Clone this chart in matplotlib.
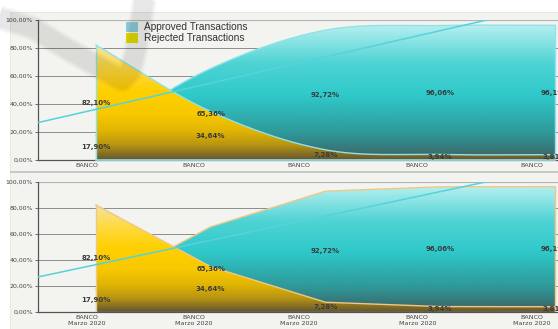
import numpy as np
import matplotlib
matplotlib.use("Agg")
import matplotlib.pyplot as plt
from matplotlib.colors import LinearSegmentedColormap
from matplotlib.patches import Rectangle
from matplotlib.lines import Line2D

W, H = 558, 329

# data
categories = ['BANCO', 'BANCO', 'BANCO', 'BANCO', 'BANCO']
months = ['Marzo 2020'] * 5
approved = [17.90, 65.36, 92.72, 96.06, 96.19]
rejected = [82.10, 34.64, 7.28, 3.94, 3.81]
legend_labels = ['Approved Transactions', 'Rejected Transactions']

teal_cmap = LinearSegmentedColormap.from_list('teal', [
    (0.0, '#3d6062'), (0.2, '#2f9899'), (0.48, '#2fc9ca'),
    (0.72, '#4fd3d4'), (1.0, '#b6efef')])
gold_cmap = LinearSegmentedColormap.from_list('gold', [
    (0.0, '#655533'), (0.06, '#8a7222'), (0.13, '#b89412'), (0.25, '#e0b404'),
    (0.4, '#f8c800'), (0.6, '#ffd000'), (0.8, '#ffda40'), (1.0, '#f4e2a2')])


def fpos(x, y):
    # pixel position -> figure fraction
    return x / W, 1 - y / H


def smooth(x, y, n=40):
    # cubic hermite through the points (catmull-rom tangents)
    y = np.asarray(y, float)
    m = np.gradient(y)
    xs, ys = [], []
    for i in range(len(y) - 1):
        t = np.linspace(0, 1, n, endpoint=(i == len(y) - 2))
        h00 = 2 * t**3 - 3 * t**2 + 1
        h10 = t**3 - 2 * t**2 + t
        h01 = -2 * t**3 + 3 * t**2
        h11 = t**3 - t**2
        ys.append(h00 * y[i] + h10 * m[i] + h01 * y[i + 1] + h11 * m[i + 1])
        xs.append(x[i] + t * (x[i + 1] - x[i]))
    return np.concatenate(xs), np.concatenate(ys)


def gradient_area(ax, x, y, cmap, edge, z):
    poly = ax.fill_between(x, 0, y, facecolor='none', edgecolor='none', zorder=z)
    top = max(y)
    grad = np.linspace(0, 1, 256).reshape(-1, 1)
    im = ax.imshow(grad, cmap=cmap, origin='lower', aspect='auto',
                   extent=[x[0], x[-1], 0, top], zorder=z, interpolation='bilinear')
    im.set_clip_path(poly.get_paths()[0], transform=ax.transData)
    ax.plot(x, y, color=edge, lw=1.0, zorder=z + 0.1)
    ax.plot([x[0], x[0]], [0, y[0]], color=edge, lw=1.0, zorder=z + 0.1)
    ax.plot([x[-1], x[-1]], [0, y[-1]], color=edge, lw=1.0, zorder=z + 0.1)


def draw_panel(ax, smoothed, edge, xlabels):
    idx = np.arange(len(approved))
    if smoothed:
        xa, ya = smooth(idx, approved)
        xr, yr = smooth(idx, rejected)
    else:
        xa, ya = idx.astype(float), np.array(approved)
        xr, yr = idx.astype(float), np.array(rejected)
    gradient_area(ax, xa, ya, teal_cmap, edge, 2)
    gradient_area(ax, xr, yr, gold_cmap, edge, 3)
    if smoothed:
        ax.plot([idx[0], idx[-1]], [0, 0], color=edge, lw=1.2, zorder=4, clip_on=False)

    # linear trend of approved share
    a, b = np.polyfit(idx, approved, 1)
    xt = np.array([-0.505, (100 - b) / a])
    ax.plot(xt, a * xt + b, color='#55d3da', lw=1.1, zorder=5)

    for i in idx:
        for v in (approved[i], rejected[i]):
            ax.text(i, v / 2, ('%.2f%%' % v).replace('.', ','), ha='center', va='center',
                    fontsize=5, fontweight='bold', color='#3a3a3a', zorder=6, clip_on=False)

    ax.set_xlim(-0.505, 4.03)
    ax.set_ylim(0, 100)
    ax.set_facecolor('none')
    ax.set_yticks(range(0, 101, 20))
    ax.set_yticklabels(['%d,00%%' % v for v in range(0, 101, 20)], fontsize=4.5, color='#444')
    ax.yaxis.grid(True, color='#8c8c8c', lw=0.7, zorder=0)
    ax.axhline(100, color='#b4b4b4', lw=1.6, zorder=1)
    ax.set_axisbelow(True)
    ax.tick_params(axis='y', length=2, width=0.6, color='#555', pad=1.5)
    ax.tick_params(axis='x', length=0, pad=2.5)
    ax.set_xticks([-0.08, 0.85, 1.77, 2.80, 3.80])
    ax.set_xticklabels(xlabels, fontsize=4.6, color='#444', linespacing=1.15)
    for s in ('top', 'right'):
        ax.spines[s].set_visible(False)
    for s in ('left', 'bottom'):
        ax.spines[s].set_color('#555')
        ax.spines[s].set_linewidth(0.9)


fig = plt.figure(figsize=(W / 100, H / 100), dpi=100)
fig.patch.set_facecolor('white')

# panel backgrounds and divider
x0, y0 = fpos(10, 329)
x1, y1 = fpos(558, 12)
fig.add_artist(Rectangle((x0, y0), x1 - x0, y1 - y0, transform=fig.transFigure,
                         facecolor='#f3f3ef', edgecolor='#e6e6e2', lw=0.6, zorder=-5))
sx, sy = fpos(10, 173)
fig.add_artist(Rectangle((sx, sy), 1 - sx, 2 / H, transform=fig.transFigure,
                         facecolor='#c8c8c8', edgecolor='none', zorder=-4))

axw = (558.4 - 38) / W
ax1 = fig.add_axes([38 / W, 1 - 160 / H, axw, 140 / H])
ax2 = fig.add_axes([38 / W, 1 - 311.7 / H, axw, 130 / H])

draw_panel(ax1, True, '#8fe2e8', categories)
draw_panel(ax2, False, '#eec88a', [c + '\n' + m for c, m in zip(categories, months)])

# legend
for k, (lab, col) in enumerate(zip(legend_labels, ['#8ccad8', '#e3d900'])):
    rx, ry = fpos(126, 31.5 + 11.7 * k)
    fig.add_artist(Rectangle((rx, ry), 12 / W, 10 / H, transform=fig.transFigure,
                             facecolor=col, edgecolor='none', zorder=8))
    tx, ty = fpos(144, 26.5 + 11.7 * k)
    fig.text(tx, ty, lab, fontsize=7.3, family='Liberation Sans', color='#333',
             va='center', ha='left', zorder=8)

# soft grey swoosh across the top left, stacked strokes for a feathered edge
sw = np.array([(-6, 16), (33, 28), (67, 49), (92, 63), (111, 74), (122, 80),
               (130, 72), (136, 50), (142, 15), (146, -12)])
fx = sw[:, 0] / W
fy = 1 - sw[:, 1] / H
for lw in (18, 15.5, 13):
    fig.add_artist(Line2D(fx, fy, transform=fig.transFigure, color='black', alpha=0.03,
                          lw=lw, solid_joinstyle='round', solid_capstyle='butt', zorder=20))

fig.savefig('out.png', dpi=100)
